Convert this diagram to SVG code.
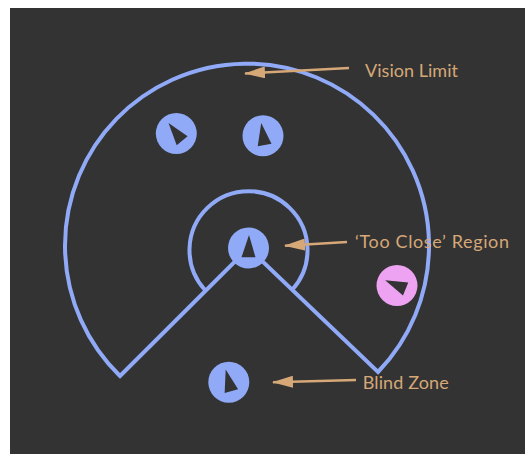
<svg xmlns="http://www.w3.org/2000/svg" width="526" height="454" viewBox="0 0 526 454">
  <defs>
    <style>
      .zone { fill: none; stroke: #90aaf8; stroke-width: 4; stroke-linejoin: miter; }
      .agent { fill: #90aaf8; }
      .agent.other { fill: #eea2f2; }
      .heading { fill: #333333; }
      .callout { fill: none; stroke: #d6a878; stroke-width: 2.5; }
      .label { fill: #d6a878; font-family: Lato, "Open Sans", "Liberation Sans", sans-serif; font-size: 18px; }
    </style>
    <marker id="arrow" viewBox="0 0 21 12" refX="20" refY="6" markerWidth="21" markerHeight="12" markerUnits="userSpaceOnUse" orient="auto">
      <path d="M0,0 L21,6 L0,12 Z" fill="#d6a878"/>
    </marker>
    <!-- agent marker: circle body with a heading triangle pointing up -->
    <path id="tri" d="M0.5,-13 L7,9.3 L-7,9.3 Z"/>
  </defs>

  <rect x="10" y="8" width="515" height="446" fill="#333333"/>

  <g id="vision-zone">
    <path class="zone" d="M120,376 L248.5,248 L378,372 A182,182 0 1 0 120,376 Z"/>
  </g>
  <g id="too-close-zone">
    <path class="zone" d="M205,290 A59,59 0 1 1 292,290"/>
  </g>

  <g id="agent-center">
    <circle class="agent" cx="248.5" cy="248" r="20.5"/>
    <use href="#tri" class="heading" transform="translate(248.5,248)"/>
  </g>
  <g id="agent-topleft">
    <circle class="agent" cx="176.3" cy="133.5" r="20.5"/>
    <use href="#tri" class="heading" transform="translate(176.3,133.5) rotate(-39)"/>
  </g>
  <g id="agent-top">
    <circle class="agent" cx="263" cy="135.8" r="20.5"/>
    <use href="#tri" class="heading" transform="translate(263,135.8) rotate(-10)"/>
  </g>
  <g id="agent-outside">
    <circle class="agent other" cx="397" cy="285.5" r="20.5"/>
    <use href="#tri" class="heading" transform="translate(397,285.5) rotate(-68)"/>
  </g>
  <g id="agent-blind">
    <circle class="agent" cx="228.8" cy="382.2" r="20.5"/>
    <use href="#tri" class="heading" transform="translate(228.8,382.2) rotate(-16)"/>
  </g>

  <g id="connectors">
    <line class="callout" x1="349" y1="68" x2="245" y2="73.5" marker-end="url(#arrow)"/>
    <line class="callout" x1="347" y1="242" x2="285" y2="245.7" marker-end="url(#arrow)"/>
    <line class="callout" x1="356" y1="380" x2="273" y2="382.3" marker-end="url(#arrow)"/>
  </g>

  <g id="labels">
    <text class="label" x="365" y="76.7" textLength="93" lengthAdjust="spacing">Vision Limit</text>
    <text class="label" x="355" y="247.7" textLength="154" lengthAdjust="spacing">‘Too Close’ Region</text>
    <text class="label" x="362.7" y="389.3" textLength="86" lengthAdjust="spacing">Blind Zone</text>
  </g>
</svg>
